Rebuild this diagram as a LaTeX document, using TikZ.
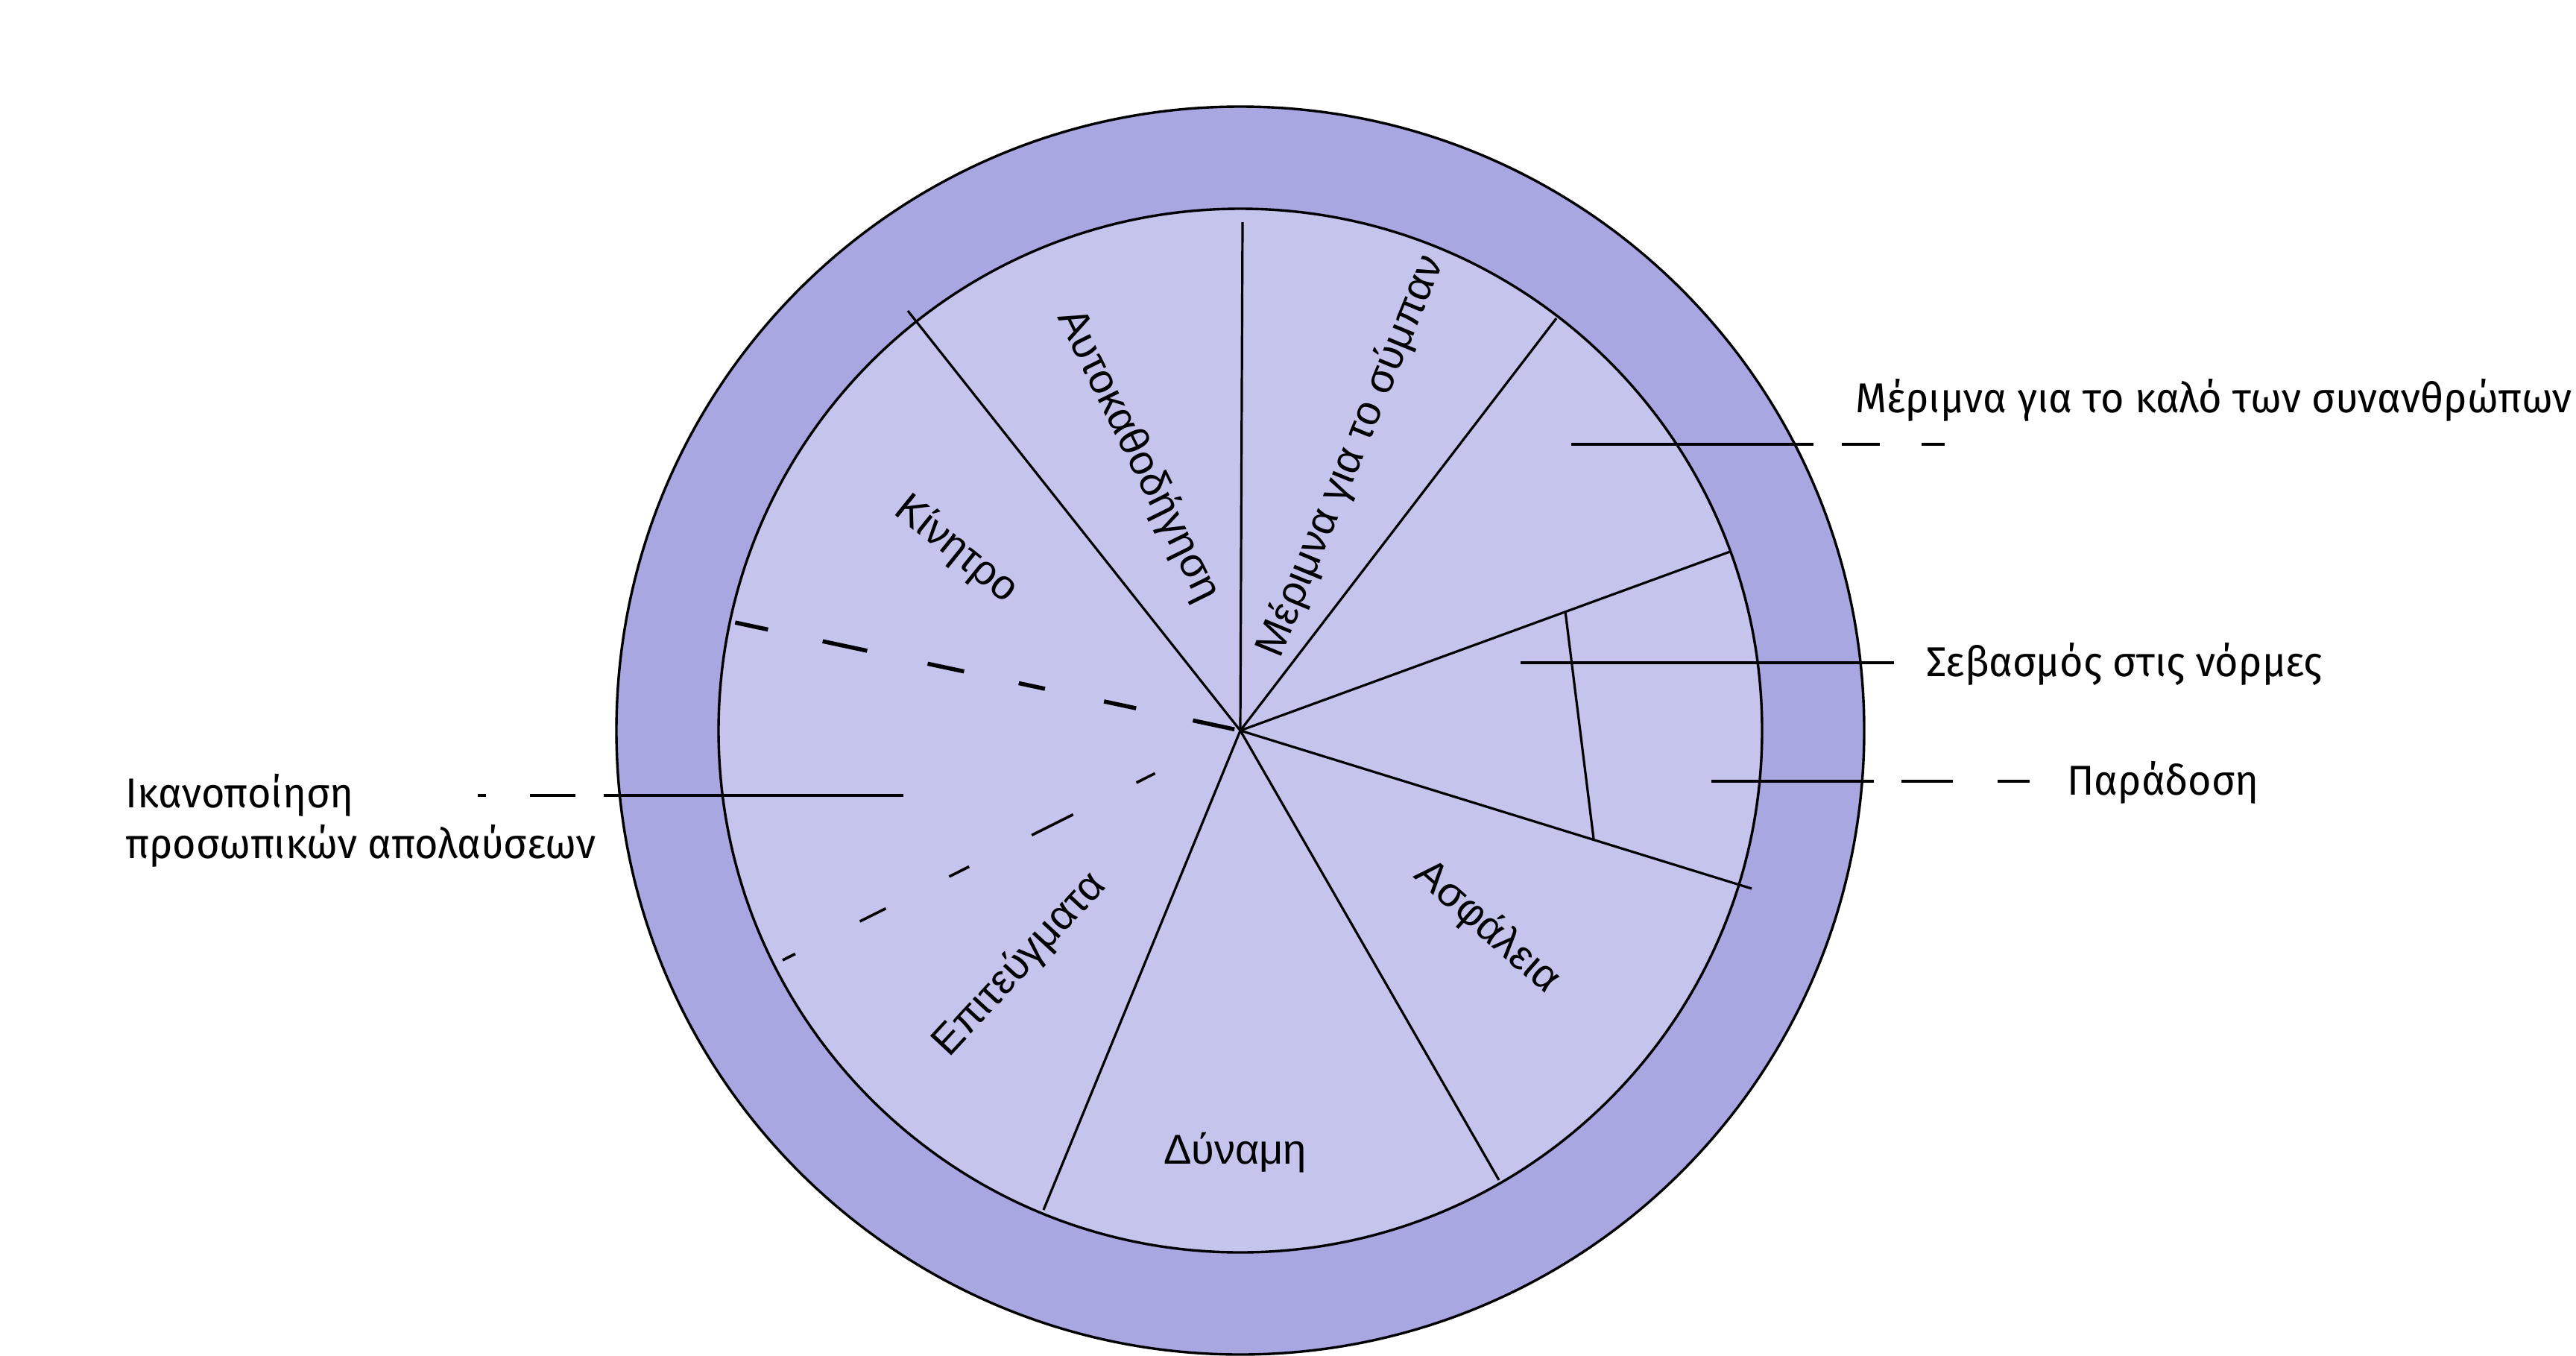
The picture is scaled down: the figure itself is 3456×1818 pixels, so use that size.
\documentclass[tikz,border=0pt]{standalone}
\usepackage{fontspec}
\setmainfont{Liberation Sans}
\newfontfamily\outerfont[FakeStretch=0.965]{Fira Sans}
\newfontfamily\innerfont{Liberation Sans}
\usetikzlibrary{calc}
\definecolor{ringcol}{RGB}{168,167,226}
\definecolor{corecol}{RGB}{196,196,236}
\tikzset{
  spoke/.style={draw=black, line width=3.2pt},
  rim/.style={draw=black, line width=3.4pt},
  dashu/.style={draw=black, line width=5.5pt},
  dashl/.style={draw=black, line width=3.6pt},
  leader/.style={draw=black, line width=3.2pt},
  inlab/.style={inner sep=0pt, font=\innerfont\fontsize{56pt}{68pt}\selectfont},
  outlab/.style={inner sep=0pt, anchor=base west, font=\outerfont\fontsize{56pt}{68pt}\selectfont}
}
\begin{document}
\begin{tikzpicture}[x=1pt,y=-1pt,line join=round]
\useasboundingbox[fill=white] (0,0) rectangle (3456,1818);
\coordinate (C) at (1664,980);
% circles
\path[rim, fill=ringcol] (C) circle[radius=837pt];
\path[rim, fill=corecol] (C) circle[radius=700pt];
% spokes
\coordinate (s1) at (1667,298);
\coordinate (s2) at (1218,417);
\coordinate (s3) at (2088,427);
\coordinate (s4) at (2321,740);
\coordinate (s5) at (2350,1192);
\coordinate (s6) at (2011,1583);
\coordinate (s7) at (1400,1623);
\foreach \s in {s1,s2,s3,s4,s5,s6,s7} \draw[spoke] (C) -- (\s);
\coordinate (t1) at (2100,820);
\coordinate (t2) at (2138,1125);
\draw[spoke] (t1) -- (t2);
% dashed radial lines
\coordinate (U) at (986,835);
\coordinate (D) at (1052,1287);
\foreach \a/\b in {8/65,143/187,268/304,379/429,512/573,648/693}
  \draw[dashu] ($(C)!\a pt!(U)$) -- ($(C)!\b pt!(U)$);
\foreach \a/\b in {128/156,251/313,407/437,532/571,668/687}
  \draw[dashl] ($(C)!\a pt!(D)$) -- ($(C)!\b pt!(D)$);
% inner labels
\node[inlab, rotate=-63.7] (auto) at (1527,611) {Αυτοκαθοδήγηση};
\node[inlab, rotate=67.6] (sympan) at (1813,612) {Μέριμνα για το σύμπαν};
\node[inlab, rotate=-38.8] (kin) at (1283,737) {Κίνητρο};
\node[inlab, rotate=47.2] (epit) at (1368,1294) {Επιτεύγματα};
\node[inlab, rotate=-41.4] (asf) at (1995,1244) {Ασφάλεια};
\node[inlab, anchor=base] (dyn) at (1657,1561) {Δύναμη};
% leader lines
\coordinate (m1) at (2108,596); \coordinate (m2) at (2433,596);
\coordinate (m3) at (2471,596); \coordinate (m4) at (2522,596);
\coordinate (m5) at (2578,596); \coordinate (m6) at (2609,596);
\draw[leader] (m1) -- (m2) (m3) -- (m4) (m5) -- (m6);
\coordinate (n1) at (2040,889); \coordinate (n2) at (2541,889);
\draw[leader] (n1) -- (n2);
\coordinate (p1) at (2296,1048); \coordinate (p2) at (2514,1048);
\coordinate (p3) at (2551,1048); \coordinate (p4) at (2620,1048);
\coordinate (p5) at (2680,1048); \coordinate (p6) at (2723,1048);
\draw[leader] (p1) -- (p2) (p3) -- (p4) (p5) -- (p6);
\coordinate (k1) at (1212,1067); \coordinate (k2) at (810,1067);
\coordinate (k3) at (772,1067); \coordinate (k4) at (711,1067);
\coordinate (k5) at (652,1067); \coordinate (k6) at (641,1067);
\draw[leader] (k1) -- (k2) (k3) -- (k4) (k5) -- (k6);
% outer labels
\node[outlab] (merimna) at (2489,553) {Μέριμνα για το καλό των συνανθρώπων};
\node[outlab] (sevasmos) at (2584,907) {Σεβασμός στις νόρμες};
\node[outlab] (paradosi) at (2773,1066) {Παράδοση};
\node[outlab] (ikan1) at (168,1083) {Ικανοποίηση};
\node[outlab] (ikan2) at (168,1151) {προσωπικών απολαύσεων};
\end{tikzpicture}
\end{document}
